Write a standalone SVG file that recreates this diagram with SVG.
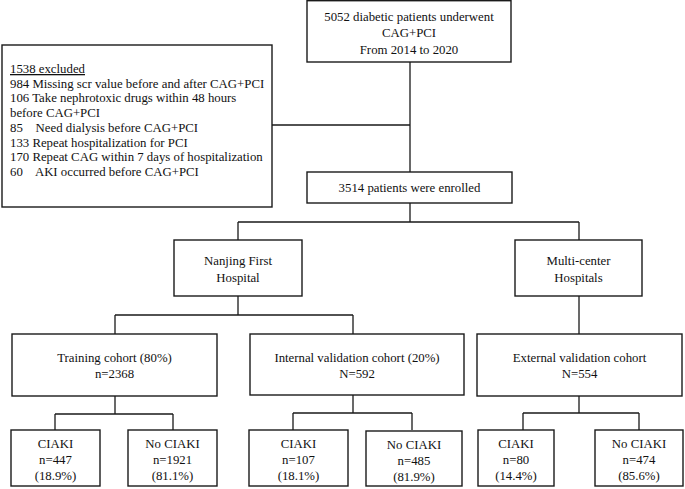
<svg xmlns="http://www.w3.org/2000/svg" width="685" height="489" viewBox="0 0 685 489">
<style>
.box{fill:#fff;stroke:#1a1a1a;stroke-width:1.4}
.ln{fill:none;stroke:#1a1a1a;stroke-width:1.3}
text{font-family:"Liberation Serif","Times New Roman",serif;font-size:12.8px;fill:#111}
.c{text-anchor:middle}
</style>
<rect width="685" height="489" fill="#fff"/>
<g id="connectors">
<path class="ln" d="M410 62V172M272 125H410M410 203V222M238 222H579M238 222V240M579 222V240"/>
<path class="ln" d="M238 296V315M115 315H353M115 315V334M353 315V334M579 296V334"/>
<path class="ln" d="M115 396V414M55 414H173M55 414V430M173 414V430"/>
<path class="ln" d="M353 395V413M293 413H412M293 413V430M412 413V430"/>
<path class="ln" d="M579 396V413M523 413H639M523 413V430M639 413V430"/>
</g>
<g id="start">
<rect class="box" x="307" y="0.7" width="204" height="61.3"/>
<text class="c" x="409" y="21">5052 diabetic patients underwent</text>
<text class="c" x="409" y="37">CAG+PCI</text>
<text class="c" x="409" y="53.5">From 2014 to 2020</text>
</g>
<g id="excluded">
<rect class="box" x="2" y="45" width="270" height="162"/>
<text x="10" y="73" text-decoration="underline">1538 excluded</text>
<text x="10" y="87.7">984 Missing scr value before and after CAG+PCI</text>
<text x="10" y="102.4">106 Take nephrotoxic drugs within 48 hours</text>
<text x="10" y="117.1">before CAG+PCI</text>
<text x="10" y="131.8" xml:space="preserve">85    Need dialysis before CAG+PCI</text>
<text x="10" y="146.5">133 Repeat hospitalization for PCI</text>
<text x="10" y="161.2">170 Repeat CAG within 7 days of hospitalization</text>
<text x="10" y="175.9" xml:space="preserve">60    AKI occurred before CAG+PCI</text>
</g>
<g id="enrolled">
<rect class="box" x="307" y="172" width="205" height="31"/>
<text class="c" x="409.5" y="192">3514 patients were enrolled</text>
</g>
<g id="nanjing">
<rect class="box" x="174" y="240" width="128" height="56"/>
<text class="c" x="238" y="265">Nanjing First</text>
<text class="c" x="238" y="281.5">Hospital</text>
</g>
<g id="multicenter">
<rect class="box" x="515" y="240" width="127" height="56"/>
<text class="c" x="578.5" y="265">Multi-center</text>
<text class="c" x="578.5" y="281.5">Hospitals</text>
</g>
<g id="training">
<rect class="box" x="12" y="334" width="205" height="62"/>
<text class="c" x="114.5" y="362">Training cohort (80%)</text>
<text class="c" x="114.5" y="378">n=2368</text>
</g>
<g id="internal">
<rect class="box" x="250" y="334" width="214" height="61"/>
<text class="c" x="357" y="362">Internal validation cohort (20%)</text>
<text class="c" x="357" y="378">N=592</text>
</g>
<g id="external">
<rect class="box" x="477" y="334" width="205" height="62"/>
<text class="c" x="579.5" y="362">External validation cohort</text>
<text class="c" x="579.5" y="378">N=554</text>
</g>
<g id="train-ciaki">
<rect class="box" x="11" y="430" width="89" height="56"/>
<text class="c" x="55.5" y="448">CIAKI</text>
<text class="c" x="55.5" y="464">n=447</text>
<text class="c" x="55.5" y="480">(18.9%)</text>
</g>
<g id="train-no-ciaki">
<rect class="box" x="128" y="430" width="89" height="56"/>
<text class="c" x="172.5" y="448">No CIAKI</text>
<text class="c" x="172.5" y="464">n=1921</text>
<text class="c" x="172.5" y="480">(81.1%)</text>
</g>
<g id="internal-ciaki">
<rect class="box" x="249" y="430" width="99" height="56"/>
<text class="c" x="298.5" y="448">CIAKI</text>
<text class="c" x="298.5" y="464">n=107</text>
<text class="c" x="298.5" y="480">(18.1%)</text>
</g>
<g id="internal-no-ciaki">
<rect class="box" x="366" y="431" width="96" height="55"/>
<text class="c" x="414" y="449">No CIAKI</text>
<text class="c" x="414" y="465">n=485</text>
<text class="c" x="414" y="481">(81.9%)</text>
</g>
<g id="external-ciaki">
<rect class="box" x="478" y="430" width="76" height="56"/>
<text class="c" x="516" y="448">CIAKI</text>
<text class="c" x="516" y="464">n=80</text>
<text class="c" x="516" y="480">(14.4%)</text>
</g>
<g id="external-no-ciaki">
<rect class="box" x="595" y="430" width="88" height="56"/>
<text class="c" x="639" y="448">No CIAKI</text>
<text class="c" x="639" y="464">n=474</text>
<text class="c" x="639" y="480">(85.6%)</text>
</g>
</svg>
